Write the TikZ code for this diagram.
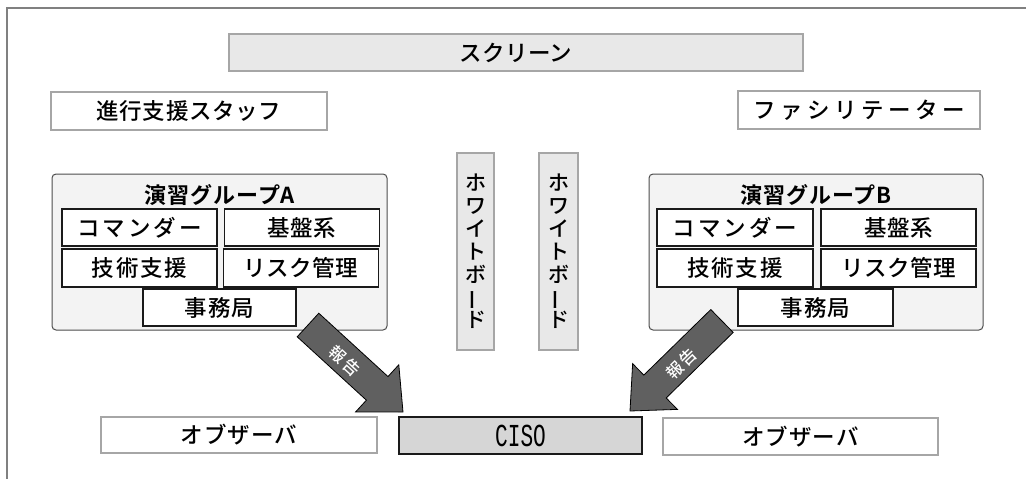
\documentclass[tikz,border=0pt]{standalone}
\usepackage{fontspec}
\setmainfont{Noto Sans CJK JP}[UprightFont=* Medium, BoldFont=* Bold]
\newfontfamily\cisofont{Liberation Mono}
\usetikzlibrary{calc}
\definecolor{framegray}{HTML}{808080}
\definecolor{boxgray}{HTML}{A6A6A6}
\definecolor{lightfill}{HTML}{E8E8E8}
\definecolor{grpfill}{HTML}{F3F3F3}
\definecolor{grpline}{HTML}{4D4D4D}
\definecolor{darkline}{HTML}{1A1A1A}
\definecolor{cisofill}{HTML}{D6D6D6}
\definecolor{arrowfill}{HTML}{606060}
\newcommand\spc[2]{{\addfontfeature{LetterSpace=#1}#2}}
\tikzset{
  x=1pt, y=-1pt,
  base/.style={inner sep=0pt, outer sep=0pt, font=\fontsize{22.5}{22.5}\selectfont},
  whitebox/.style={base, draw=boxgray, line width=1.3pt, fill=white},
  graybox/.style={base, draw=boxgray, line width=1.3pt, fill=lightfill},
  grpbox/.style={base, draw=grpline, line width=1pt, fill=grpfill, rounded corners=4pt},
  rolebox/.style={base, draw=darkline, line width=1.8pt, fill=white, minimum width=155pt, minimum height=37pt},
  cisobox/.style={base, draw=darkline, line width=2pt, fill=cisofill},
  wbbox/.style={base, draw=boxgray, line width=1.3pt, fill=lightfill, align=center, font=\fontsize{21}{22.8}\selectfont},
  grptitle/.style={inner sep=0pt, font=\fontsize{22}{22}\selectfont\bfseries},
  reportarrow/.style={fill=arrowfill, draw=black, line width=0.8pt, line join=miter},
  reportlabel/.style={inner sep=0pt, text=white, font=\fontsize{16.5}{16.5}\selectfont},
}
\begin{document}
\begin{tikzpicture}
\useasboundingbox (0,0) rectangle (1026,479);
% outer frame
\draw[framegray, line width=1.5pt] (7,479) -- (7,8) -- (1026,8);

% top
\node[graybox, minimum width=574pt, minimum height=37pt] (screen) at (516,52.5) {\spc{1}{スクリーン}};
\node[whitebox, minimum width=276pt, minimum height=38pt] (staff) at (189,111) {\spc{3}{進行支援スタッフ}};
\node[whitebox, minimum width=242pt, minimum height=38pt] (facil) at (859,110) {\spc{20}{ファシリテーター}};

% group A
\node[grpbox, minimum width=335pt, minimum height=156pt] (grpA) at (219.5,252) {};
\node[grptitle] (titleA) at (220,195) {\spc{4}{演習グループA}};
\node[rolebox] (a1) at (139.5,227.5) {\spc{13}{コマンダー}};
\node[rolebox] (a2) at (302,227.5) {\spc{3}{基盤系}};
\node[rolebox, minimum height=38pt] (a3) at (139.5,268) {\spc{8}{技術支援}};
\node[rolebox, minimum height=38pt] (a4) at (301,268) {\spc{2}{リスク管理}};
\node[rolebox, minimum width=153pt] (a5) at (219.5,307.5) {\spc{5}{事務局}};

% group B
\node[grpbox, minimum width=334pt, minimum height=156pt] (grpB) at (816,252) {};
\node[grptitle] (titleB) at (816,195) {\spc{4}{演習グループB}};
\node[rolebox, minimum width=156pt] (b1) at (735,227.5) {\spc{13}{コマンダー}};
\node[rolebox] (b2) at (898.5,227.5) {\spc{3}{基盤系}};
\node[rolebox, minimum width=156pt, minimum height=38pt] (b3) at (735,268) {\spc{8}{技術支援}};
\node[rolebox, minimum height=38pt] (b4) at (898.5,268) {\spc{2}{リスク管理}};
\node[rolebox] (b5) at (815.5,307.5) {\spc{5}{事務局}};

% whiteboards
\node[wbbox, minimum width=37pt, minimum height=197pt] (wb1) at (475.5,251.5)
  {ホ\\ワ\\イ\\ト\\ボ\\\rotatebox[origin=c]{90}{ー}\\ド};
\node[wbbox, minimum width=39pt, minimum height=197pt] (wb2) at (558.5,251.5)
  {ホ\\ワ\\イ\\ト\\ボ\\\rotatebox[origin=c]{90}{ー}\\ド};

% bottom row
\node[whitebox, minimum width=276pt, minimum height=36pt] (obsL) at (239,435) {\spc{5}{オブザーバ}};
\node[cisobox, minimum width=243pt, minimum height=37pt] (ciso) at (520.5,435.5)
  {\scalebox{0.66}[1]{\fontsize{32}{32}\cisofont CISO}};
\node[whitebox, minimum width=275pt, minimum height=37pt] (obsR) at (800.5,436.5) {\spc{5}{オブザーバ}};

% report arrows
\coordinate (tA) at (308,325);
\coordinate (pA) at (403,412);
\coordinate (bA) at ($(pA)!35pt!(tA)$);
\draw[reportarrow] ($(tA)!16pt!90:(pA)$) -- ($(bA)!16pt!90:(pA)$) -- ($(bA)!32pt!90:(pA)$) -- (pA)
  -- ($(bA)!32pt!-90:(pA)$) -- ($(bA)!16pt!-90:(pA)$) -- ($(tA)!16pt!-90:(pA)$) -- cycle;
\node[reportlabel, rotate=-42.5] (lblA) at (345,361) {\spc{14}{報告}};

\coordinate (tB) at (722,321);
\coordinate (pB) at (630,411);
\coordinate (bB) at ($(pB)!35pt!(tB)$);
\draw[reportarrow] ($(tB)!16pt!90:(pB)$) -- ($(bB)!16pt!90:(pB)$) -- ($(bB)!32pt!90:(pB)$) -- (pB)
  -- ($(bB)!32pt!-90:(pB)$) -- ($(bB)!16pt!-90:(pB)$) -- ($(tB)!16pt!-90:(pB)$) -- cycle;
\node[reportlabel, rotate=44] (lblB) at (681.5,363.5) {\spc{14}{報告}};
\end{tikzpicture}
\end{document}
